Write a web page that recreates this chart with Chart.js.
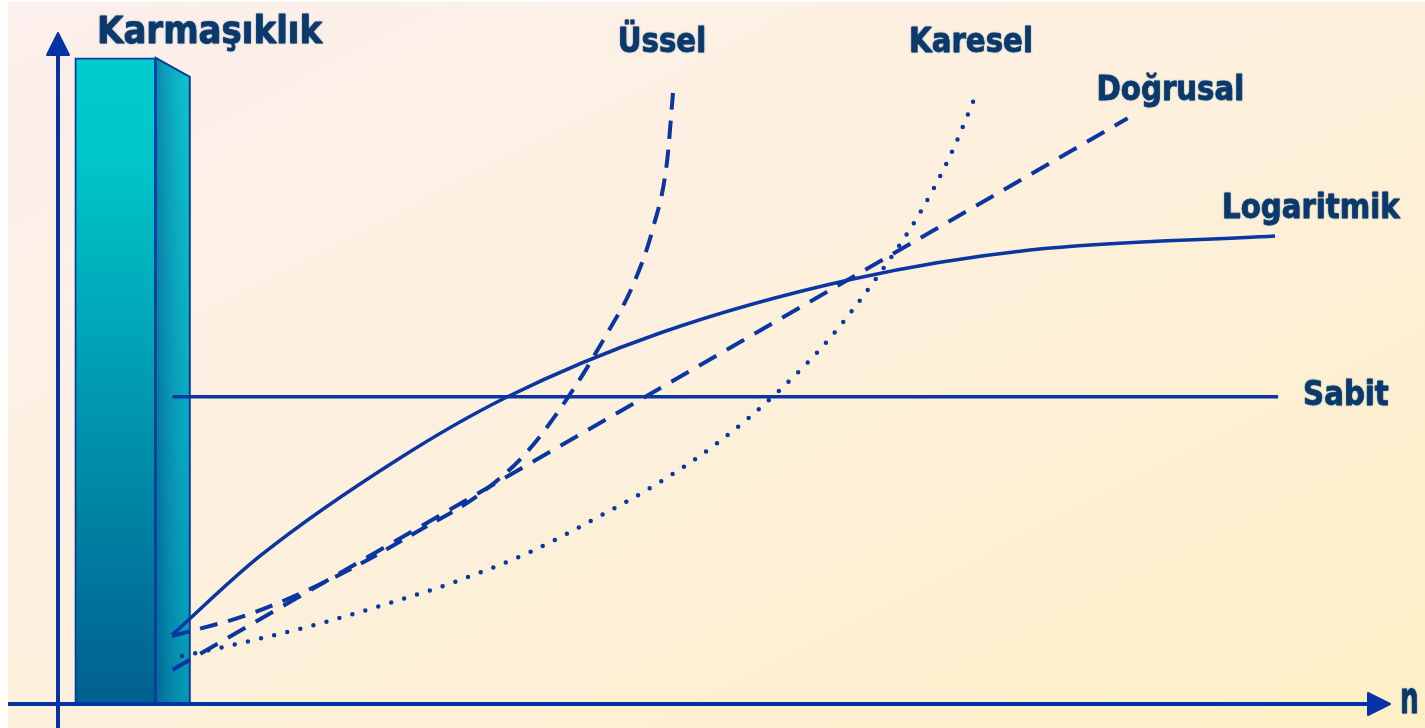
<!DOCTYPE html>
<html lang="tr">
<head>
<meta charset="UTF-8">
<title>Karmaşıklık</title>
<script src="https://cdn.jsdelivr.net/npm/chart.js"></script>
<style>
  html, body { margin: 0; padding: 0; background: #ffffff; overflow: hidden; }
  .chart-box { position: relative; width: 1425px; height: 728px; }
</style>
</head>
<body>
<div class="chart-box"><canvas id="complexityChart"></canvas></div>
<script>
// Axis titles
const yTitle = 'Karmaşıklık';
const xTitle = 'n';

// Decorative column next to the complexity axis
const barN = [4.3];
const barY = [96.3];

// Sabit (constant)
const sabitN = [8.6, 91.6];
const sabitY = [45.8, 45.8];

// Logaritmik
const logN = [8.56, 15.17, 25.68, 33.71, 45.20, 59.68, 72.97, 91.37];
const logY = [10.28, 22.06, 36.66, 45.75, 55.29, 63.34, 67.66, 69.75];

// Doğrusal (linear)
const linN = [8.6, 80.3];
const linY = [5.1, 87.3];

// Karesel (quadratic)
const quadN = [9.31, 14.41, 19.67, 24.92, 30.18, 35.44, 40.69, 45.20, 49.70, 54.20, 57.96, 61.71, 64.71, 66.97, 69.07];
const quadY = [7.15, 9.39, 12.00, 15.05, 18.48, 22.65, 28.02, 33.08, 39.19, 46.80, 54.55, 64.23, 73.17, 81.67, 91.51];

// Üssel (exponential)
const expN = [8.56, 14.41, 20.95, 27.18, 31.68, 35.21, 38.66, 41.07, 43.17, 44.67, 45.72, 46.17];
const expY = [10.13, 13.41, 19.08, 25.93, 31.30, 37.56, 46.80, 54.70, 62.44, 70.94, 80.77, 91.06];

const LINE = '#0a36a2';
const TEXT = '#0b3a6d';
const EDGE = '#0b3c9e';

function zip(xs, ys) {
    return xs.map((x, i) => ({ x: x, y: ys[i] }));
}

// Page background: white rim at the top/left, warm diagonal wash elsewhere
const backgroundPlugin = {
    id: 'backgroundWash',
    beforeDraw(chart) {
        const { ctx, width, height } = chart;
        ctx.save();
        ctx.fillStyle = '#ffffff';
        ctx.fillRect(0, 0, width, height);
        const g = ctx.createLinearGradient(0, 0, 590, 1154);
        g.addColorStop(0, '#fcefed');
        g.addColorStop(0.5, '#fdf0dc');
        g.addColorStop(1, '#fdf0c6');
        ctx.fillStyle = g;
        ctx.fillRect(8, 2, width - 8, height - 2);
        ctx.restore();
    }
};

// Right-hand face of the column, so it reads as a 3D block
const barSidePlugin = {
    id: 'barSide',
    afterDatasetDraw(chart, args, opts) {
        if (args.meta.type !== 'bar') return;
        const { ctx } = chart;
        args.meta.data.forEach(el => {
            const right = el.x + el.width / 2;
            const top = el.y;
            const base = el.base;
            const d = opts.depth;
            const drop = opts.drop;
            ctx.save();
            ctx.beginPath();
            ctx.moveTo(right, top);
            ctx.lineTo(right + d, top + drop);
            ctx.lineTo(right + d, base);
            ctx.lineTo(right, base);
            ctx.closePath();
            const gv = ctx.createLinearGradient(0, top, 0, base);
            gv.addColorStop(0, '#12bccb');
            gv.addColorStop(1, '#0588aa');
            ctx.fillStyle = gv;
            ctx.fill();
            const gh = ctx.createLinearGradient(right, 0, right + d, 0);
            gh.addColorStop(0, 'rgba(0, 40, 110, 0.35)');
            gh.addColorStop(1, 'rgba(0, 230, 230, 0.2)');
            ctx.fillStyle = gh;
            ctx.fill();
            ctx.strokeStyle = EDGE;
            ctx.lineWidth = 2;
            ctx.stroke();
            ctx.restore();
        });
    }
};

// Crossing axes with arrow heads
const axesPlugin = {
    id: 'arrowAxes',
    afterDatasetsDraw(chart) {
        const { ctx, chartArea, height } = chart;
        const x0 = chartArea.left, y0 = chartArea.bottom;
        ctx.save();
        ctx.strokeStyle = '#0633a3';
        ctx.fillStyle = '#0633a3';
        ctx.lineWidth = 4;
        ctx.beginPath();
        ctx.moveTo(x0, height);
        ctx.lineTo(x0, chartArea.top + 12);
        ctx.moveTo(8, y0);
        ctx.lineTo(chartArea.right - 12, y0);
        ctx.stroke();
        ctx.lineJoin = 'round';
        ctx.lineWidth = 2;
        ctx.beginPath();
        ctx.moveTo(x0, chartArea.top);
        ctx.lineTo(x0 + 11, chartArea.top + 22);
        ctx.lineTo(x0 - 11, chartArea.top + 22);
        ctx.closePath();
        ctx.moveTo(chartArea.right, y0);
        ctx.lineTo(chartArea.right - 22, y0 - 11);
        ctx.lineTo(chartArea.right - 22, y0 + 11);
        ctx.closePath();
        ctx.fill();
        ctx.stroke();
        ctx.restore();
    }
};

// Bold, slightly condensed captions
function drawCaption(ctx, text, x, y, size, sx, align) {
    ctx.save();
    ctx.translate(x, y);
    ctx.scale(sx, 1);
    ctx.font = 'bold ' + size + 'px "DejaVu Sans", Verdana, sans-serif';
    ctx.fillStyle = TEXT;
    ctx.strokeStyle = TEXT;
    ctx.lineWidth = 0.8;
    ctx.lineJoin = 'round';
    ctx.textAlign = align;
    ctx.textBaseline = 'alphabetic';
    ctx.shadowColor = 'rgba(11, 58, 109, 0.45)';
    ctx.shadowBlur = 1.5;
    ctx.fillText(text, 0, 0);
    ctx.strokeText(text, 0, 0);
    ctx.restore();
}

const captionPlugin = {
    id: 'captions',
    afterDraw(chart, args, opts) {
        const { ctx, chartArea } = chart;
        drawCaption(ctx, yTitle, chartArea.left + 39, chartArea.top + 10, 37, 0.92, 'left');
        drawCaption(ctx, xTitle, chartArea.right + 10, chartArea.bottom + 9, 44, 0.6, 'left');
        chart.data.datasets.forEach((ds, i) => {
            const pos = opts.offsets[ds.label];
            if (!pos) return;
            const pts = chart.getDatasetMeta(i).data;
            const last = pts[pts.length - 1];
            drawCaption(ctx, ds.label, last.x + pos.dx, last.y + pos.dy, 34, 0.86, pos.align);
        });
    }
};

const ctx = document.getElementById('complexityChart').getContext('2d');
const chart = new Chart(ctx, {
    type: 'line',
    data: {
        datasets: [
            {
                type: 'bar',
                label: 'sütun',
                data: zip(barN, barY),
                order: 10,
                barThickness: 81,
                borderSkipped: false,
                borderWidth: 2,
                borderColor: EDGE,
                backgroundColor(c) {
                    const area = c.chart.chartArea;
                    if (!area) return '#00a0b8';
                    const g = c.chart.ctx.createLinearGradient(0, area.top, 0, area.bottom);
                    g.addColorStop(0, '#00cfcf');
                    g.addColorStop(0.2, '#00c4c9');
                    g.addColorStop(1, '#005f8e');
                    return g;
                }
            },
            {
                label: 'Sabit',
                data: zip(sabitN, sabitY),
                borderColor: LINE,
                borderWidth: 3.5
            },
            {
                label: 'Logaritmik',
                data: zip(logN, logY),
                borderColor: LINE,
                borderWidth: 3.5,
                cubicInterpolationMode: 'monotone'
            },
            {
                label: 'Doğrusal',
                data: zip(linN, linY),
                borderColor: LINE,
                borderWidth: 4,
                borderDash: [20, 12]
            },
            {
                label: 'Karesel',
                data: zip(quadN, quadY),
                borderColor: LINE,
                borderWidth: 4.5,
                borderDash: [0, 13.5],
                borderCapStyle: 'round',
                cubicInterpolationMode: 'monotone'
            },
            {
                label: 'Üssel',
                data: zip(expN, expY),
                borderColor: LINE,
                borderWidth: 4,
                borderDash: [18, 11],
                cubicInterpolationMode: 'monotone'
            }
        ]
    },
    options: {
        responsive: true,
        maintainAspectRatio: false,
        animation: false,
        layout: { padding: { left: 58, right: 35, top: 33, bottom: 24 } },
        elements: {
            point: { radius: 0, hoverRadius: 0 },
            line: { fill: false }
        },
        scales: {
            x: { type: 'linear', min: 0, max: 100, offset: false, display: false },
            y: { type: 'linear', min: 0, max: 100, display: false }
        },
        plugins: {
            legend: { display: false },
            tooltip: { enabled: false },
            barSide: { depth: 34, drop: 19 },
            captions: {
                offsets: {
                    'Üssel': { dx: -11, dy: -41, align: 'center' },
                    'Karesel': { dx: -7, dy: -38, align: 'center' },
                    'Doğrusal': { dx: -31, dy: -18, align: 'left' },
                    'Logaritmik': { dx: -53, dy: -18, align: 'left' },
                    'Sabit': { dx: 25, dy: 8, align: 'left' }
                }
            }
        }
    },
    plugins: [backgroundPlugin, barSidePlugin, axesPlugin, captionPlugin]
});
</script>
</body>
</html>
